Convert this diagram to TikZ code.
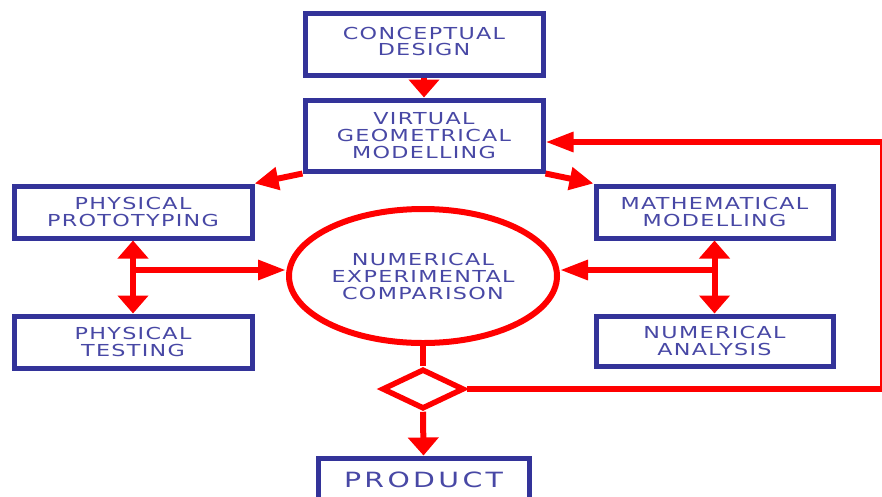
\documentclass[tikz,border=0pt]{standalone}
\usepackage{fontspec}
\usetikzlibrary{arrows.meta,shapes.geometric}
\newfontfamily\dfont[FakeStretch=1.35,LetterSpace=8]{DejaVu Sans}
\newfontfamily\dfontbig[FakeStretch=1.35,LetterSpace=16]{DejaVu Sans}
\definecolor{boxblue}{RGB}{51,51,153}
\definecolor{txtblue}{RGB}{72,72,165}
\definecolor{flowred}{RGB}{255,0,0}
\begin{document}
\begin{tikzpicture}[x=1pt,y=-1pt,
  stepbox/.style={draw=boxblue,line width=5pt,fill=white,inner sep=0pt,
    align=center,text=txtblue,font=\dfont\fontsize{16.5}{17}\selectfont},
  flow/.style={draw=flowred,line width=6pt},
  tipV/.style={-{Triangle[length=18pt,width=30pt]}},
  tipVV/.style={{Triangle[length=18pt,width=30pt]}-{Triangle[length=18pt,width=30pt]}},
  tipH/.style={-{Triangle[length=28pt,width=19pt]}},
  tipD/.style={-{Triangle[length=24pt,width=22pt]}}]
\useasboundingbox (0,0) rectangle (882,496);
\clip (0,0) rectangle (882,496);
\fill[white] (0,0) rectangle (882,496);

\node[stepbox,minimum width=238pt,minimum height=62pt] (concept) at (424,44) {\raisebox{4pt}{\begin{tabular}{@{}c@{}}CONCEPTUAL\\[-1pt]DESIGN\end{tabular}}};
\node[stepbox,minimum width=238pt,minimum height=71pt] (virtual) at (424,135.5) {VIRTUAL\\GEOMETRICAL\\MODELLING};
\node[stepbox,minimum width=238pt,minimum height=52pt] (physprot) at (133,212) {PHYSICAL\\PROTOTYPING};
\node[stepbox,minimum width=238pt,minimum height=52pt] (phystest) at (133,342) {PHYSICAL\\TESTING};
\node[stepbox,minimum width=237pt,minimum height=52pt] (mathmod) at (714.5,212) {MATHEMATICAL\\MODELLING};
\node[stepbox,minimum width=237pt,minimum height=50pt] (numan) at (714.5,341) {NUMERICAL\\ANALYSIS};
\node[stepbox,minimum width=211pt,minimum height=54pt,font=\dfontbig\fontsize{21}{24}\selectfont] (product) at (423.5,485) {\raisebox{10pt}{PRODUCT}};

\node[ellipse,draw=flowred,line width=6pt,fill=white,minimum width=268pt,minimum height=134pt,
  inner sep=0pt,align=center,text=txtblue,font=\dfont\fontsize{16.5}{17}\selectfont] (nec) at (423,276)
  {NUMERICAL\\EXPERIMENTAL\\COMPARISON};
\node[diamond,draw=flowred,line width=5.5pt,fill=white,minimum width=82pt,minimum height=40pt,
  aspect=2,inner sep=0pt] (dec) at (423,389) {};

% arrows
\draw[flow,tipV] (concept.south) -- (virtual.north);
\draw[flow,tipD] (virtual.south west) -- (physprot.north east);
\draw[flow,tipD] (virtual.south east) -- (mathmod.north west);
\draw[flow,tipVV] (physprot.south) -- (phystest.north);
\draw[flow,tipVV] (mathmod.south) -- (numan.north);
\coordinate (jL) at (133,270);
\coordinate (jR) at (714.5,270);
\draw[flow,tipH] (jL) -- (jL -| nec.west);
\draw[flow,tipH] (jR) -- (jR -| nec.east);
\draw[flow] (nec.south) -- (dec.north);
\draw[flow,tipV] (dec.south) -- (product.north);
\coordinate (fbTop) at (883,142);
\coordinate (fbBot) at (dec.east -| fbTop);
\draw[flow,tipH] (dec.east) -- (fbBot) -- (fbTop) -- (fbTop -| virtual.east);
\end{tikzpicture}
\end{document}
